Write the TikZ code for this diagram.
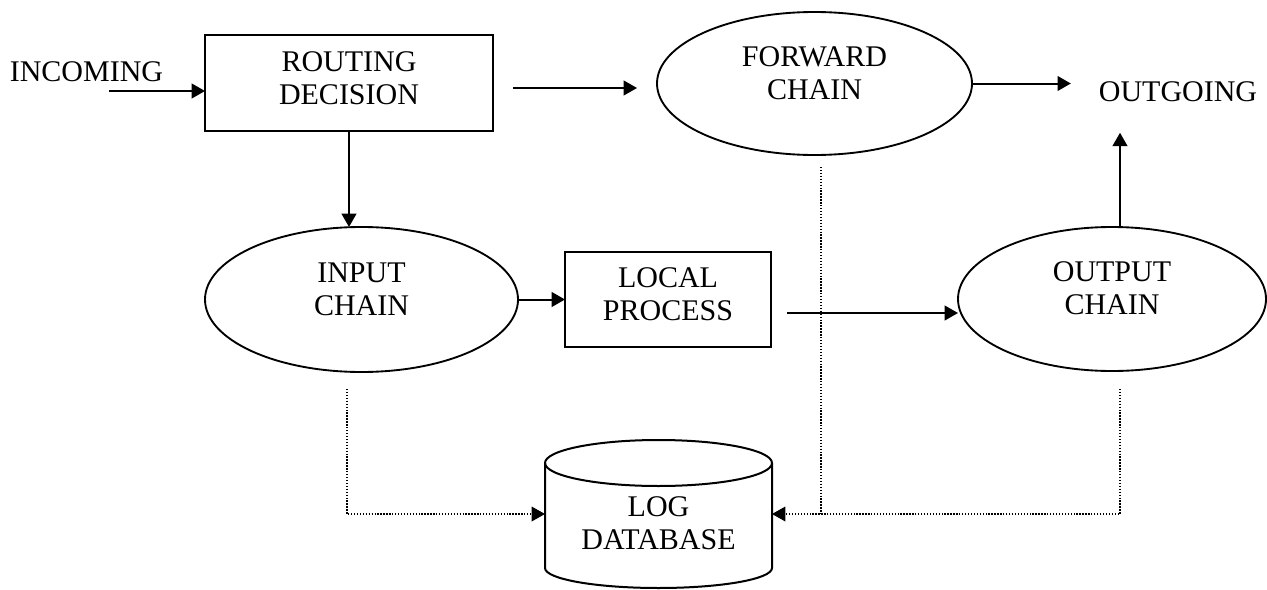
\documentclass[tikz,border=0pt]{standalone}
\usepackage{fontspec}
\setmainfont{Liberation Serif}
\usetikzlibrary{arrows.meta,shapes.geometric,calc}

\begin{document}
\begin{tikzpicture}[x=0.75pt,y=0.75pt,
  every node/.style={inner sep=0pt, outer sep=0pt},
  lbl/.style={font=\fontsize{22.5pt}{24.75pt}\selectfont, align=center},
  boxnode/.style={draw, line width=1.5pt, rectangle},
  ovalnode/.style={draw, line width=1.4pt, ellipse},
  flow/.style={line width=1.5pt, -{Triangle[length=10pt,width=11pt]}},
  logline/.style={line width=1pt, dash pattern=on 1pt off 1.2pt},
  logarrow/.style={logline, -{Triangle[length=10pt,width=11pt]}}]
\useasboundingbox (0,0) rectangle (1267,-589);

% shapes
\node[boxnode, minimum width=216pt, minimum height=72pt] (routing) at (349,-83) {};
\node[ovalnode, minimum width=236.25pt, minimum height=107.25pt] (forward) at (814.5,-83.5) {};
\node[ovalnode, minimum width=234.75pt, minimum height=108.75pt] (input) at (361.5,-299.5) {};
\node[boxnode, minimum width=154.5pt, minimum height=71.25pt] (local) at (668,-299.5) {};
\node[ovalnode, minimum width=231pt, minimum height=108pt] (output) at (1112,-299) {};
\node[minimum width=170.25pt, minimum height=111pt] (db) at (658.5,-514) {};

% log database cylinder
\draw[line width=1.5pt] (658.5,-463) ellipse [x radius=113.5, y radius=23];
\draw[line width=1.5pt] (545,-463) -- (545,-568)
  arc[start angle=180, end angle=360, x radius=113.5, y radius=20]
  -- (772,-463);

% labels
\node[lbl] (incoming) at (86.5,-72) {INCOMING};
\node[lbl] (outgoing) at (1178,-92) {OUTGOING};
\node[lbl] (routingtxt) at (349,-78.5) {ROUTING\\DECISION};
\node[lbl] (forwardtxt) at (814.5,-73.5) {FORWARD\\CHAIN};
\node[lbl] (inputtxt) at (361.5,-289) {INPUT\\CHAIN};
\node[lbl] (localtxt) at (668,-294.5) {LOCAL\\PROCESS};
\node[lbl] (outputtxt) at (1112,-288.5) {OUTPUT\\CHAIN};
\node[lbl] (dbtxt) at (658.5,-523.5) {LOG\\DATABASE};

% packet flow
\coordinate (inStart) at (109,-91);
\draw[flow] (inStart) -- (inStart -| routing.west);
\coordinate (fwStart) at ($(routing.east)+(20,-5)$);
\draw[flow] (fwStart) -- ($(fwStart -| forward.west)+(-20,0)$);
\draw[flow, shorten >=21pt] (forward.east) -- (forward.east -| outgoing.west);
\draw[flow] (routing.south) -- (routing.south |- input.north);
\draw[flow] (input.east) -- (input.east -| local.west);
\coordinate (lpStart) at ($(local.east)+(16,-13.5)$);
\draw[flow] (lpStart) -- (lpStart -| output.west);
\coordinate (outUp) at ($(output.north)+(8,0)$);
\draw[flow, shorten >=23pt] (outUp) -- (outUp |- outgoing.south);

% logging
\coordinate (inLog) at ($(input.south)+(-14.5,-17)$);
\draw[logarrow] (inLog) |- (db.west);
\coordinate (outLog) at ($(output.south)+(8,-18)$);
\draw[logarrow] (outLog) |- (db.east);
\coordinate (fwLog) at ($(forward.south)+(6.5,-12)$);
\draw[logline] (fwLog) -- (fwLog |- db.east);
\end{tikzpicture}
\end{document}
